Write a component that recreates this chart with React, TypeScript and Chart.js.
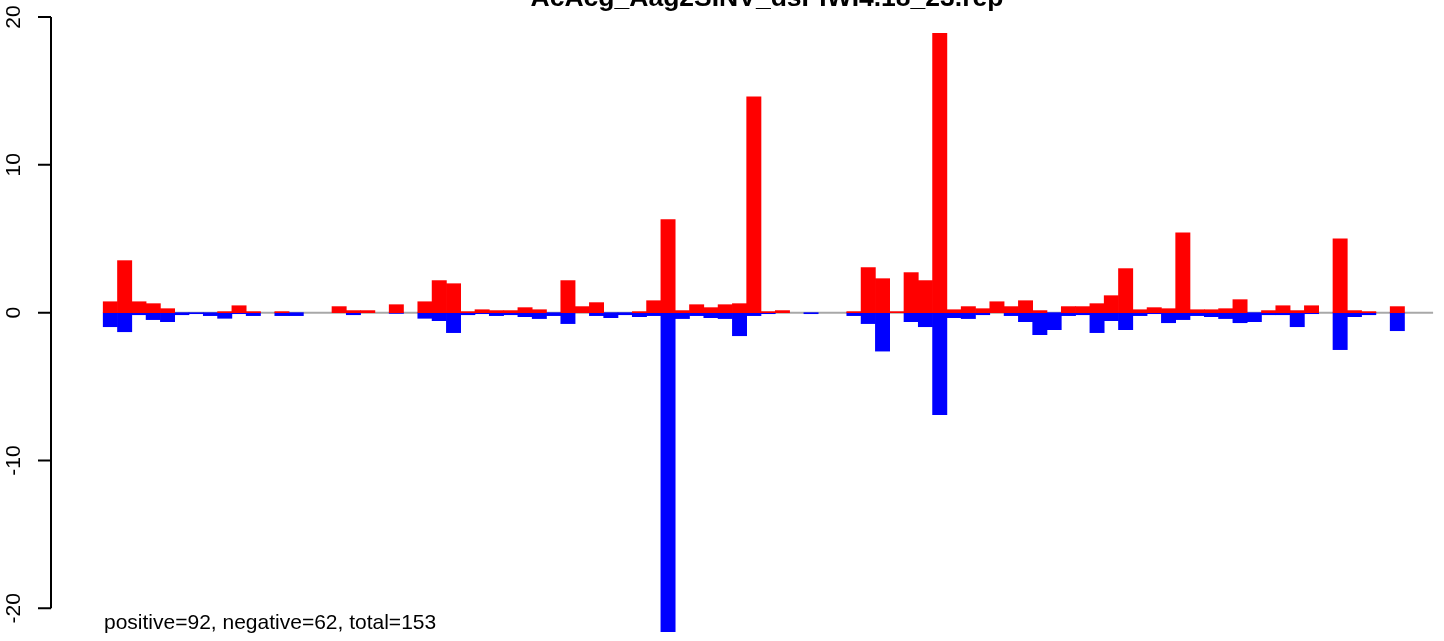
import React, { useEffect, useRef } from "react";
import { Chart, registerables } from "chart.js";

Chart.register(...registerables);

const TITLE = "AcAcg_Aag2SINV_dsPIWI4.18_23.rep";
const FOOTER = "positive=92, negative=62, total=153";

const POSITIVE: number[] = [
  0.74, 3.52, 0.74, 0.61, 0.27, 0, 0, 0, 0.07, 0.47,
  0.07, 0, 0.07, 0, 0, 0, 0.41, 0.14, 0.14, 0,
  0.54, 0, 0.74, 2.17, 1.96, 0.07, 0.2, 0.14, 0.14, 0.34,
  0.2, 0, 2.17, 0.41, 0.68, 0, 0, 0.07, 0.81, 6.3,
  0.14, 0.54, 0.34, 0.54, 0.61, 14.6, 0.07, 0.14, 0, 0,
  0, 0, 0.07, 3.05, 2.3, 0.07, 2.71, 2.17, 18.9, 0.2,
  0.41, 0.27, 0.74, 0.41, 0.81, 0.14, 0, 0.41, 0.41, 0.61,
  1.15, 2.98, 0.2, 0.34, 0.27, 5.4, 0.2, 0.2, 0.27, 0.88,
  0, 0.14, 0.47, 0.14, 0.47, 0, 5.0, 0.14, 0.07, 0,
  0.41,
];

const NEGATIVE: number[] = [
  -0.95, -1.29, -0.14, -0.47, -0.61, -0.14, -0.07, -0.2, -0.38, -0.07,
  -0.2, 0, -0.2, -0.2, 0, 0, 0, -0.14, 0, 0,
  -0.05, 0, -0.38, -0.54, -1.35, -0.14, -0.07, -0.2, -0.14, -0.27,
  -0.4, -0.2, -0.74, 0, -0.2, -0.34, -0.14, -0.27, -0.2, -22.5,
  -0.4, -0.2, -0.34, -0.4, -1.56, -0.2, -0.07, 0, 0, -0.07,
  0, 0, -0.2, -0.74, -2.6, 0, -0.61, -0.95, -6.9, -0.34,
  -0.4, -0.14, 0, -0.2, -0.61, -1.49, -1.15, -0.2, -0.14, -1.35,
  -0.54, -1.15, -0.2, -0.07, -0.68, -0.47, -0.2, -0.27, -0.4, -0.68,
  -0.61, -0.14, -0.14, -0.95, -0.07, 0, -2.5, -0.27, -0.14, 0,
  -1.22,
];

const Y_TICKS: number[] = [-20, -10, 0, 10, 20];
const Y_TICK_LABELS: string[] = ["-20", "-10", "0", "10", "20"];
const ZERO_LINE_FROM = 0;
const ZERO_LINE_TO = 93;

const toPoints = (arr: number[]) =>
  arr.map((v, i) => ({ x: i + 0.5, y: v === 0 ? null : v }));

const overlay = {
  id: "rOverlay",
  beforeDatasetsDraw(chart: any) {
    const ctx = chart.ctx;
    const xs = chart.scales.x;
    const ys = chart.scales.y;
    const y0 = ys.getPixelForValue(0);
    ctx.save();
    ctx.strokeStyle = "#a8a8a8";
    ctx.lineWidth = 2;
    ctx.beginPath();
    ctx.moveTo(xs.getPixelForValue(ZERO_LINE_FROM), y0);
    ctx.lineTo(xs.getPixelForValue(ZERO_LINE_TO), y0);
    ctx.stroke();
    ctx.restore();
  },
  afterDraw(chart: any) {
    const ctx = chart.ctx;
    const ys = chart.scales.y;
    const area = chart.chartArea;
    const ax = area.left;
    ctx.save();
    ctx.strokeStyle = "#000";
    ctx.lineWidth = 2;
    ctx.beginPath();
    ctx.moveTo(ax, ys.getPixelForValue(Y_TICKS[Y_TICKS.length - 1]));
    ctx.lineTo(ax, ys.getPixelForValue(Y_TICKS[0]));
    Y_TICKS.forEach((v) => {
      const py = ys.getPixelForValue(v);
      ctx.moveTo(ax, py);
      ctx.lineTo(ax - 13, py);
    });
    ctx.stroke();

    ctx.fillStyle = "#000";
    ctx.font = '21px "Liberation Sans", Arial, sans-serif';
    ctx.textAlign = "center";
    ctx.textBaseline = "alphabetic";
    Y_TICKS.forEach((v, i) => {
      const py = ys.getPixelForValue(v);
      ctx.save();
      ctx.translate(20, py);
      ctx.rotate(-Math.PI / 2);
      ctx.fillText(Y_TICK_LABELS[i], 0, 0);
      ctx.restore();
    });

    ctx.textAlign = "left";
    ctx.fillText(FOOTER, 104, 629);

    ctx.font = 'bold 26.5px "Liberation Sans", Arial, sans-serif';
    ctx.textAlign = "center";
    ctx.fillText(TITLE, (area.left + area.right) / 2 - 2, 6);
    ctx.restore();
  },
};

export default function App() {
  const ref = useRef<HTMLCanvasElement | null>(null);
  useEffect(() => {
    if (!ref.current) return;
    const chart = new Chart(ref.current, {
      type: "bar",
      data: {
        datasets: [
          {
            label: "positive",
            data: toPoints(POSITIVE),
            backgroundColor: "#ff0000",
            borderWidth: 0,
            grouped: false,
            categoryPercentage: 1,
            barPercentage: 1,
          } as any,
          {
            label: "negative",
            data: toPoints(NEGATIVE),
            backgroundColor: "#0000ff",
            borderWidth: 0,
            grouped: false,
            categoryPercentage: 1,
            barPercentage: 1,
          } as any,
        ],
      },
      options: {
        animation: false,
        responsive: false,
        devicePixelRatio: 1,
        layout: { padding: { left: 51, right: 13, top: 0, bottom: 9 } },
        plugins: {
          legend: { display: false },
          tooltip: { enabled: false },
          title: { display: false },
        },
        scales: {
          x: { type: "linear", display: false, offset: false, min: -3.65, max: 96.77 },
          y: { type: "linear", display: false, min: -21.6, max: 21.15 },
        },
      },
      plugins: [overlay],
    });
    return () => chart.destroy();
  }, []);
  return (
    <div
      style={{
        position: "fixed",
        left: 0,
        top: 0,
        width: 1444,
        height: 641,
        overflow: "hidden",
        background: "#fff",
      }}
    >
      <canvas ref={ref} width={1500} height={641} style={{ display: "block" }} />
    </div>
  );
}
